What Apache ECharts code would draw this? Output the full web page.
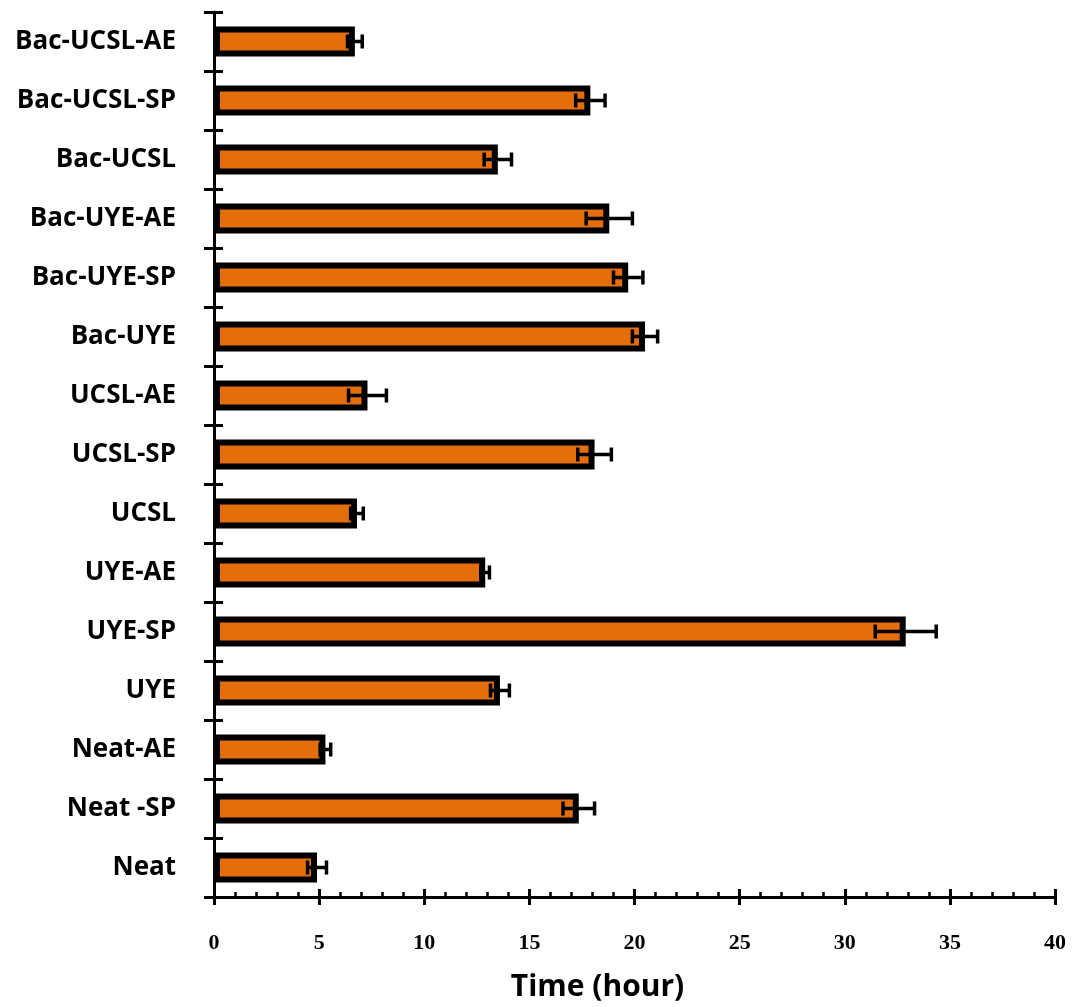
<!DOCTYPE html>
<html>
<head>
<meta charset="utf-8">
<script src="https://cdn.jsdelivr.net/npm/echarts@6/dist/echarts.min.js"></script>
<style>
html,body{margin:0;padding:0;background:#fff;}
#chart{width:1080px;height:1007px;}
</style>
</head>
<body>
<div id="chart"></div>
<script>
// Categories, bottom to top
const categories = ['Neat', 'Neat -SP', 'Neat-AE', 'UYE', 'UYE-SP', 'UYE-AE', 'UCSL', 'UCSL-SP', 'UCSL-AE', 'Bac-UYE', 'Bac-UYE-SP', 'Bac-UYE-AE', 'Bac-UCSL', 'Bac-UCSL-SP', 'Bac-UCSL-AE'];
// Mean time (hour)
const timeValues = [4.9, 17.35, 5.3, 13.6, 32.9, 12.9, 6.8, 18.1, 7.3, 20.5, 19.7, 18.8, 13.5, 17.9, 6.7];
// Error (±)
const timeErrors = [0.45, 0.75, 0.25, 0.45, 1.45, 0.2, 0.3, 0.8, 0.9, 0.6, 0.7, 1.1, 0.65, 0.7, 0.35];
const xTicks = [0, 5, 10, 15, 20, 25, 30, 35, 40];

const errData = categories.map((c, i) => [i, timeValues[i] - timeErrors[i], timeValues[i] + timeErrors[i]]);

const chart = echarts.init(document.getElementById('chart'));
const axisLineStyle = {color: '#000', width: 3};
chart.setOption({
  animation: false,
  backgroundColor: '#fff',
  grid: {left: 214, right: 25, top: 12, bottom: 109, containLabel: false},
  xAxis: [{
    type: 'value', min: xTicks[0], max: xTicks[xTicks.length - 1], interval: 5,
    position: 'bottom',
    axisLine: {show: true, lineStyle: axisLineStyle},
    axisTick: {show: true, inside: false, length: 8, lineStyle: {color: '#000', width: 3}},
    splitLine: {show: false},
    axisLabel: {margin: 35, fontFamily: 'Liberation Serif', fontWeight: 'bold', fontSize: 22, color: '#000'},
    name: 'Time (hour)', nameLocation: 'middle', nameGap: 75,
    nameTextStyle: {fontFamily: 'Open Sans', fontWeight: 'bold', fontSize: 30, color: '#000', padding: [0, 74, 0, 0]}
  }, {
    type: 'value', min: xTicks[0], max: xTicks[xTicks.length - 1], interval: 5,
    position: 'bottom',
    axisLine: {show: false},
    axisTick: {show: true, inside: true, length: 8, lineStyle: {color: '#000', width: 3}},
    minorTick: {show: true, splitNumber: 5, length: 5, lineStyle: {color: '#000', width: 2.5}},
    splitLine: {show: false},
    axisLabel: {show: false}
  }],
  yAxis: [{
    type: 'category', data: categories, position: 'left',
    axisLine: {show: true, lineStyle: axisLineStyle},
    axisTick: {show: true, inside: false, length: 10, lineStyle: {color: '#000', width: 3}},
    axisLabel: {margin: 38, fontFamily: 'Open Sans', fontWeight: 'bold', fontSize: 26, color: '#000'},
    splitLine: {show: false}
  }, {
    type: 'category', data: categories, position: 'left',
    axisLine: {show: false},
    axisTick: {show: true, inside: true, length: 9, lineStyle: {color: '#000', width: 3}},
    axisLabel: {show: false},
    splitLine: {show: false}
  }],
  series: [{
    type: 'bar',
    xAxisIndex: 0, yAxisIndex: 0,
    data: timeValues,
    barWidth: 30,
    itemStyle: {color: '#E46D0C', borderColor: '#000', borderWidth: 6}
  }, {
    type: 'custom',
    xAxisIndex: 0, yAxisIndex: 0,
    data: errData,
    encode: {x: [1, 2], y: 0},
    z: 5,
    renderItem: function (params, api) {
      const cat = api.value(0);
      const lo = api.coord([api.value(1), cat]);
      const hi = api.coord([api.value(2), cat]);
      const h = 7;
      const style = {stroke: '#000', lineWidth: 3.5};
      return {
        type: 'group',
        children: [
          {type: 'line', shape: {x1: lo[0], y1: lo[1], x2: hi[0], y2: hi[1]}, style: style},
          {type: 'line', shape: {x1: lo[0], y1: lo[1] - h, x2: lo[0], y2: lo[1] + h}, style: style},
          {type: 'line', shape: {x1: hi[0], y1: hi[1] - h, x2: hi[0], y2: hi[1] + h}, style: style}
        ]
      };
    }
  }]
});
</script>
</body>
</html>
